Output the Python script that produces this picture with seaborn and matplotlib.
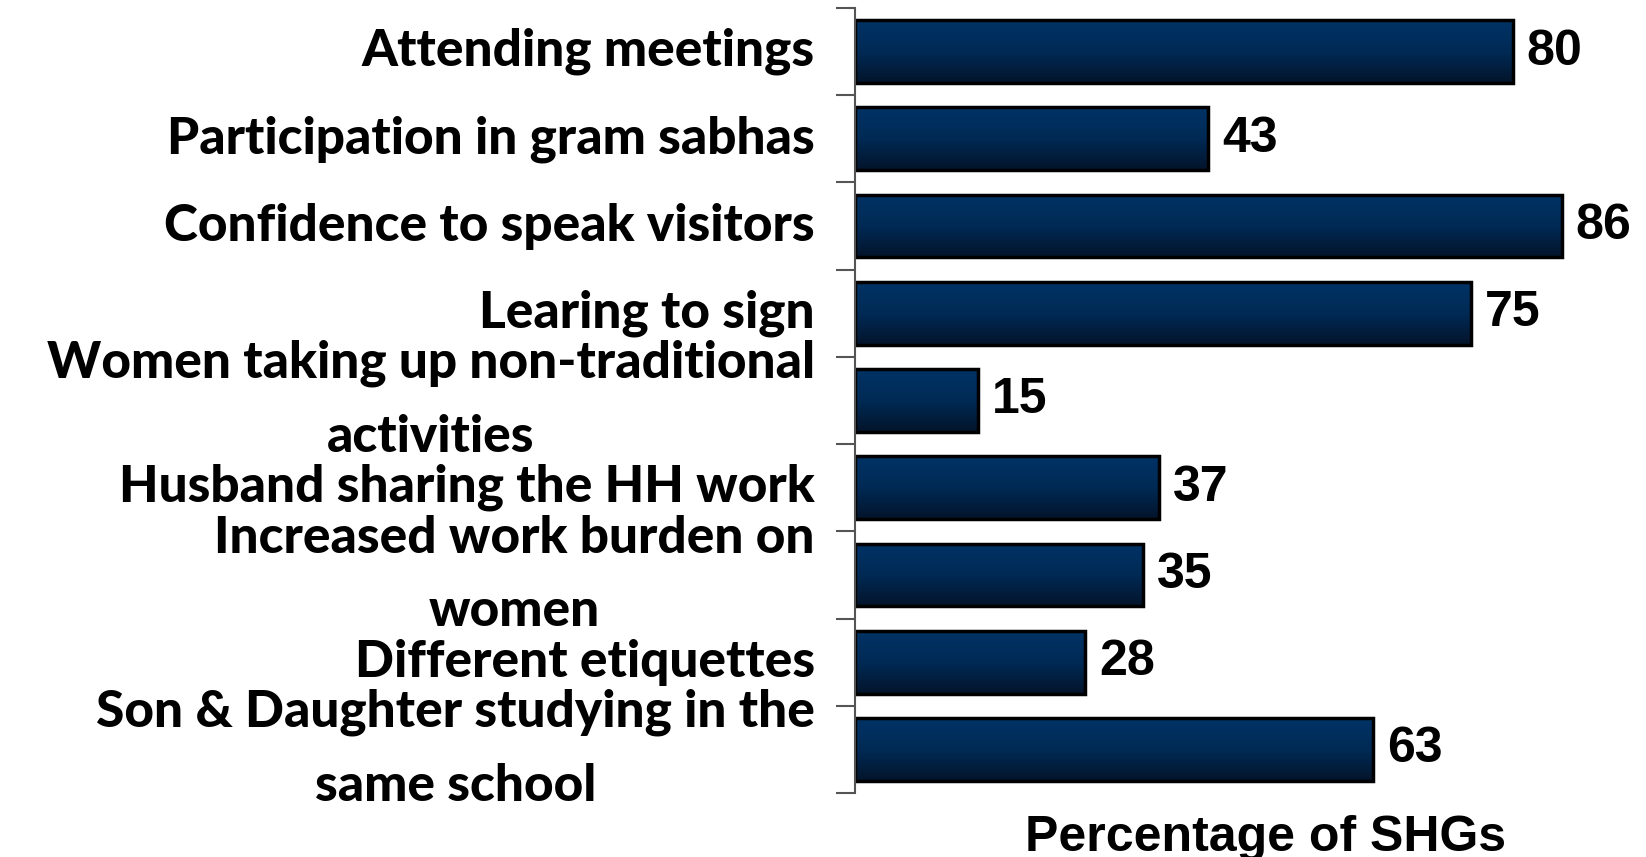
import numpy as np
import matplotlib
matplotlib.use("Agg")
import matplotlib.pyplot as plt
import seaborn as sns
from matplotlib.colors import LinearSegmentedColormap

categories = [
    "Attending meetings",
    "Participation in gram sabhas",
    "Confidence to speak visitors",
    "Learing to sign",
    "Women taking up non-traditional\nactivities",
    "Husband sharing the HH work",
    "Increased work burden on\nwomen",
    "Different etiquettes",
    "Son & Daughter studying in the\nsame school",
]
values = [80, 43, 86, 75, 15, 37, 35, 28, 63]

sns.set_style("white")
plt.rcParams["font.family"] = ["Lato", "DejaVu Sans"]

fig = plt.figure(figsize=(16.46, 8.57), dpi=100)
ax = fig.add_axes([0.5194, 0.0747, 0.4994, 0.916])

sns.barplot(x=values, y=categories, orient="h", color="#003366",
            width=0.72, edgecolor="black", linewidth=2.5, ax=ax)

# vertical gradient inside each bar
cmap = LinearSegmentedColormap.from_list("bar", ["#003366", "#002a55", "#04142b"])
grad = np.linspace(0, 1, 100).reshape(-1, 1)
for p in ax.patches:
    x0, y0 = p.get_x(), p.get_y()
    w, h = p.get_width(), p.get_height()
    im = ax.imshow(grad, cmap=cmap, aspect="auto",
                   extent=[x0, x0 + w, y0 + h, y0], zorder=p.get_zorder() + 0.1)
    im.set_clip_path(p)
    p.set_facecolor("none")
    p.set_zorder(p.get_zorder() + 0.2)
ax.set_xlim(0, 100)
ax.set_ylim(len(categories) - 0.5, -0.5)

for c in ax.containers:
    ax.bar_label(c, padding=10, fontsize=36, fontweight="bold",
                 family="Liberation Sans", color="black")

sns.despine(ax=ax, top=True, right=True, bottom=True)
ax.spines["left"].set_color("#555555")
ax.spines["left"].set_linewidth(1.5)
ax.set_xticks([])
ax.set_yticks(np.arange(len(categories)))
ax.set_yticklabels(categories, fontsize=37, fontweight="black", color="black",
                   ha="right", va="center", multialignment="center", linespacing=1.7)
ax.set_yticks(np.arange(len(categories) + 1) - 0.5, minor=True)
ax.tick_params(axis="y", which="major", length=0, pad=29)
ax.tick_params(axis="y", which="minor", length=14, width=1.5, color="#555555", left=True)

ax.set_xlabel("Percentage of SHGs", fontsize=36, fontweight="bold",
              family="Liberation Sans", color="black", labelpad=16)
ax.set_ylabel("")

fig.savefig("out.png", dpi=100)
